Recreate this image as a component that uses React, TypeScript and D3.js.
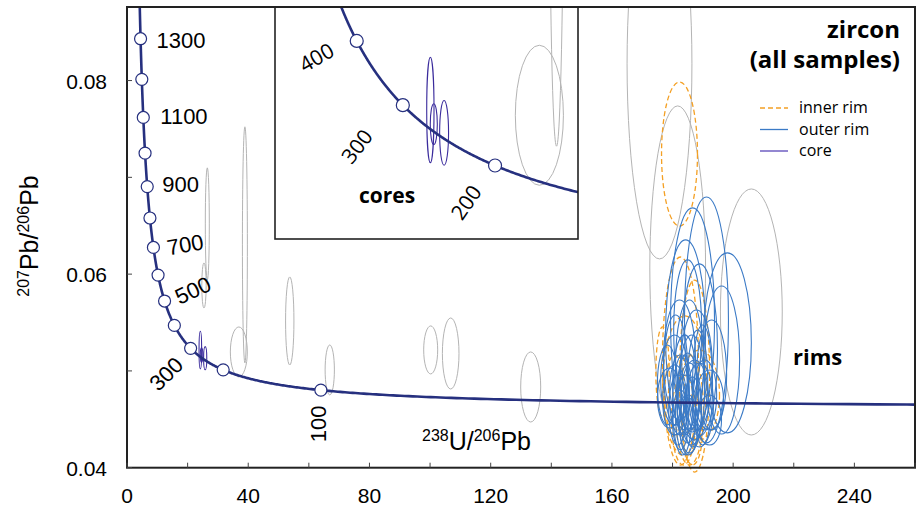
import React, { useEffect, useRef } from 'react';
import * as d3 from 'd3';

// concordia age markers (Ma)
const markerAges = [100, 200, 300, 400, 500, 600, 700, 800, 900, 1000, 1100, 1200, 1300];
const labelAges = [100, 300, 500, 700, 900, 1100, 1300];
const insetLabelAges = [200, 300, 400];

// axis ticks
const xTicks = [0, 20, 40, 60, 80, 100, 120, 140, 160, 180, 200, 220, 240, 260];
const xTickLabels = [0, 40, 80, 120, 160, 200, 240];
const yTicks = [0.04, 0.05, 0.06, 0.07, 0.08];
const yTickLabels = [0.04, 0.06, 0.08];

// error ellipses: [238U/206Pb, 207Pb/206Pb, half-axis x, half-axis y]
const otherSpots = [
  [26.5, 0.06519, 0.66, 0.00579],
  [25.4, 0.05883, 0.72, 0.00233],
  [38.9, 0.06302, 0.82, 0.0122],
  [36.9, 0.05196, 2.8, 0.00258],
  [53.7, 0.05516, 1.38, 0.00455],
  [66.9, 0.0501, 1.53, 0.00258],
  [100.2, 0.05217, 2.31, 0.00248],
  [106.8, 0.0518, 2.74, 0.00367],
  [133.2, 0.04834, 3.3, 0.00362],
  [175.7, 0.08173, 10.7, 0.02016],
  [181.7, 0.06064, 9.2, 0.01674],
  [206.0, 0.05609, 10.2, 0.01271],
];

const innerRim = [
  [182.3, 0.07241, 5.93, 0.00744],
  [182.6, 0.05102, 5.93, 0.01075],
  [187.3, 0.04947, 4.95, 0.00992],
  [184.0, 0.04845, 7.25, 0.00724],
  [188.9, 0.04752, 6.6, 0.00465],
  [176.7, 0.04989, 2.2, 0.00465],
  [185.6, 0.04596, 4.62, 0.00568],
  [180.7, 0.04752, 3.3, 0.00413],
  [186.6, 0.0439, 3.3, 0.00362],
  [183.6, 0.04493, 3.96, 0.00465],
];

const outerRim = [
  [191.2, 0.05527, 7.25, 0.0127],
  [186.6, 0.05527, 7.25, 0.01158],
  [184.3, 0.05372, 6.6, 0.00982],
  [198.1, 0.0529, 7.9, 0.0093],
  [188.9, 0.05217, 5.93, 0.00889],
  [196.2, 0.05113, 5.93, 0.00765],
  [182.3, 0.05113, 5.28, 0.0062],
  [185.6, 0.0506, 4.62, 0.00672],
  [187.9, 0.0501, 5.28, 0.0062],
  [192.9, 0.04958, 4.95, 0.00568],
  [180.7, 0.04906, 4.62, 0.00465],
  [184.0, 0.04855, 3.96, 0.00517],
  [186.3, 0.04803, 4.29, 0.00568],
  [182.3, 0.04752, 3.3, 0.00413],
  [185.0, 0.0472, 3.63, 0.00465],
  [187.3, 0.047, 4.62, 0.00413],
  [180.7, 0.047, 3.96, 0.00362],
  [183.3, 0.04648, 3.3, 0.00517],
  [185.6, 0.04617, 3.96, 0.00465],
  [188.9, 0.04648, 4.62, 0.00434],
  [179.0, 0.0472, 3.96, 0.0031],
  [181.7, 0.04596, 2.97, 0.00362],
  [184.3, 0.04545, 3.3, 0.00413],
  [186.6, 0.04576, 2.97, 0.00362],
  [190.6, 0.04752, 3.96, 0.00362],
  [192.2, 0.047, 4.62, 0.0031],
  [178.3, 0.04855, 3.3, 0.00413],
  [188.3, 0.04906, 3.3, 0.00517],
  [182.6, 0.04493, 2.64, 0.0031],
  [185.3, 0.04441, 2.97, 0.0031],
  [185.0, 0.05423, 4.62, 0.00724],
  [192.2, 0.04493, 3.96, 0.00258],
  [181.0, 0.0501, 3.96, 0.00568],
  [189.9, 0.04855, 3.3, 0.0062],
];

const cores = [
  [24.2, 0.052154, 0.425, 0.001946],
  [24.6, 0.051633, 0.41, 0.000753],
  [25.8, 0.051313, 0.52, 0.001193],
];

const NAVY = '#26307f';
const GRAY = '#b4b4b4';
const ORANGE = '#f4a024';
const BLUE = '#3b7ac6';
const CORE = '#3a2b9c';
const SANS = '"Liberation Sans", Arial, sans-serif';
const OPEN = '"Open Sans", sans-serif';

// Tera-Wasserburg concordia
const L238 = 1.55125e-10;
const L235 = 9.8485e-10;
const concordia = (ma) => {
  const e8 = Math.exp(L238 * ma * 1e6) - 1;
  const e5 = Math.exp(L235 * ma * 1e6) - 1;
  return [1 / e8, e5 / e8 / 137.88];
};

const App = () => {
  const svgRef = useRef(null);

  useEffect(() => {
    const svg = d3.select(svgRef.current);
    svg.selectAll('*').remove();

    const x = d3.scaleLinear().domain([0, 260]).range([127, 915]);
    const y = d3.scaleLinear().domain([0.04, 0.0876]).range([467.7, 7]);
    const xi = d3.scaleLinear().domain([6.1, 41.4]).range([275, 578]);
    const yi = d3.scaleLinear().domain([0.0474, 0.05595]).range([239, 7]);

    const defs = svg.append('defs');
    defs.append('clipPath').attr('id', 'main-clip')
      .append('rect').attr('x', 127).attr('y', 7).attr('width', 788).attr('height', 504);
    defs.append('clipPath').attr('id', 'inset-clip')
      .append('rect').attr('x', 275).attr('y', 7).attr('width', 303).attr('height', 232);

    const curveAges = d3.range(20, 1600, 1);

    const drawContent = (g, sx, sy, r) => {
      const ell = (data, color, width, dash) => {
        g.append('g').selectAll('ellipse')
          .data(data)
          .enter()
          .append('ellipse')
          .attr('cx', d => sx(d[0]))
          .attr('cy', d => sy(d[1]))
          .attr('rx', d => sx(d[0] + d[2]) - sx(d[0]))
          .attr('ry', d => sy(d[1]) - sy(d[1] + d[3]))
          .attr('fill', 'none')
          .attr('stroke', color)
          .attr('stroke-width', width)
          .attr('stroke-dasharray', dash);
      };
      ell(otherSpots, GRAY, 1, null);
      ell(innerRim, ORANGE, 1.3, '5,3');
      ell(outerRim, BLUE, 1.1, null);
      ell(cores, CORE, 1.1, null);

      const line = d3.line()
        .x(d => sx(concordia(d)[0]))
        .y(d => sy(concordia(d)[1]));
      g.append('path')
        .datum(curveAges)
        .attr('d', line)
        .attr('fill', 'none')
        .attr('stroke', NAVY)
        .attr('stroke-width', 2.6);

      g.append('g').selectAll('circle')
        .data(markerAges)
        .enter()
        .append('circle')
        .attr('cx', d => sx(concordia(d)[0]))
        .attr('cy', d => sy(concordia(d)[1]))
        .attr('r', r)
        .attr('fill', '#fff')
        .attr('stroke', NAVY)
        .attr('stroke-width', 1.2);
    };

    // main plot
    const main = svg.append('g').attr('clip-path', 'url(#main-clip)');
    drawContent(main, x, y, 6);

    // age labels on main concordia: [dx, dy, rotation]
    const mainLabelLayout = {
      1300: [16, 9, 0],
      1100: [17, 7, 0],
      900: [15, 5, 0],
      700: [15, 8, -10],
      500: [15, 4, -25],
      300: [-32, 44, -45],
      100: [5, 52, -90],
    };
    svg.append('g').selectAll('text')
      .data(labelAges)
      .enter()
      .append('text')
      .attr('transform', d => {
        const p = concordia(d);
        const [dx, dy, rot] = mainLabelLayout[d];
        return `translate(${x(p[0]) + dx},${y(p[1]) + dy}) rotate(${rot})`;
      })
      .style('font-family', SANS)
      .style('font-size', '22px')
      .text(d => d);

    // inset
    svg.append('rect')
      .attr('x', 275).attr('y', 7).attr('width', 303).attr('height', 232)
      .attr('fill', '#fff');
    const inset = svg.append('g').attr('clip-path', 'url(#inset-clip)');
    drawContent(inset, xi, yi, 6.5);
    svg.append('rect')
      .attr('x', 275).attr('y', 7).attr('width', 303).attr('height', 232)
      .attr('fill', 'none')
      .attr('stroke', '#222')
      .attr('stroke-width', 1.6);

    const insetLabelLayout = {
      400: [-52, 32, -30],
      300: [-51, 60, -52],
      200: [-33, 56, -55],
    };
    svg.append('g').selectAll('text')
      .data(insetLabelAges)
      .enter()
      .append('text')
      .attr('transform', d => {
        const p = concordia(d);
        const [dx, dy, rot] = insetLabelLayout[d];
        return `translate(${xi(p[0]) + dx},${yi(p[1]) + dy}) rotate(${rot})`;
      })
      .style('font-family', OPEN)
      .style('font-size', '21px')
      .text(d => d);

    svg.append('text')
      .attr('x', 387).attr('y', 203)
      .attr('text-anchor', 'middle')
      .style('font-family', OPEN)
      .style('font-weight', 700)
      .style('font-size', '21px')
      .text('cores');

    // frame and ticks
    svg.append('rect')
      .attr('x', 127).attr('y', 7).attr('width', 788).attr('height', 460.7)
      .attr('fill', 'none')
      .attr('stroke', '#222')
      .attr('stroke-width', 2);

    svg.append('g').selectAll('line')
      .data(xTicks)
      .enter()
      .append('line')
      .attr('x1', d => x(d)).attr('x2', d => x(d))
      .attr('y1', 467.7).attr('y2', 462.7)
      .attr('stroke', '#444').attr('stroke-width', 1);

    svg.append('g').selectAll('line')
      .data(yTicks)
      .enter()
      .append('line')
      .attr('x1', 127).attr('x2', 132)
      .attr('y1', d => y(d)).attr('y2', d => y(d))
      .attr('stroke', '#444').attr('stroke-width', 1);

    svg.append('g').selectAll('text')
      .data(xTickLabels)
      .enter()
      .append('text')
      .attr('x', d => x(d)).attr('y', 503)
      .attr('text-anchor', 'middle')
      .style('font-family', SANS)
      .style('font-size', '21px')
      .text(d => d);

    svg.append('g').selectAll('text')
      .data(yTickLabels)
      .enter()
      .append('text')
      .attr('x', 107).attr('y', d => y(d) + 8)
      .attr('text-anchor', 'end')
      .style('font-family', SANS)
      .style('font-size', '21px')
      .text(d => d.toFixed(2));

    // axis titles
    const yTitle = svg.append('text')
      .attr('transform', 'translate(38,236) rotate(-90)')
      .attr('text-anchor', 'middle')
      .style('font-family', SANS)
      .style('font-size', '25px');
    yTitle.append('tspan').style('font-size', '16px').attr('dy', -9).text('207');
    yTitle.append('tspan').attr('dy', 9).text('Pb/');
    yTitle.append('tspan').style('font-size', '16px').attr('dy', -9).text('206');
    yTitle.append('tspan').attr('dy', 9).text('Pb');

    const xTitle = svg.append('text')
      .attr('x', 422).attr('y', 450)
      .style('font-family', SANS)
      .style('font-size', '25px');
    xTitle.append('tspan').style('font-size', '16px').attr('dy', -9).text('238');
    xTitle.append('tspan').attr('dy', 9).text('U/');
    xTitle.append('tspan').style('font-size', '16px').attr('dy', -9).text('206');
    xTitle.append('tspan').attr('dy', 9).text('Pb');

    // title and annotations
    svg.append('text')
      .attr('x', 900).attr('y', 38)
      .attr('text-anchor', 'end')
      .style('font-family', OPEN).style('font-weight', 700).style('font-size', '24px')
      .text('zircon');
    svg.append('text')
      .attr('x', 900).attr('y', 68)
      .attr('text-anchor', 'end')
      .style('font-family', OPEN).style('font-weight', 700).style('font-size', '24px')
      .text('(all samples)');
    svg.append('text')
      .attr('x', 793).attr('y', 365)
      .style('font-family', OPEN).style('font-weight', 700).style('font-size', '22px')
      .text('rims');

    // legend
    const legendItems = [
      { label: 'inner rim', color: ORANGE, dash: '5,3' },
      { label: 'outer rim', color: BLUE, dash: null },
      { label: 'core', color: '#5846b8', dash: null },
    ];
    const legend = svg.append('g').selectAll('g')
      .data(legendItems)
      .enter()
      .append('g')
      .attr('transform', (d, i) => `translate(760,${108 + i * 21.5})`);
    legend.append('line')
      .attr('x1', 0).attr('x2', 28)
      .attr('stroke', d => d.color)
      .attr('stroke-width', 1.3)
      .attr('stroke-dasharray', d => d.dash);
    legend.append('text')
      .attr('x', 39).attr('y', 5)
      .style('font-family', OPEN)
      .style('font-size', '16px')
      .text(d => d.label);
  }, []);

  return (
    <div>
      <style>{'body{margin:0}'}</style>
      <svg ref={svgRef} width={919} height={511} style={{ display: 'block', background: '#fff' }}></svg>
    </div>
  );
};

export default App;
